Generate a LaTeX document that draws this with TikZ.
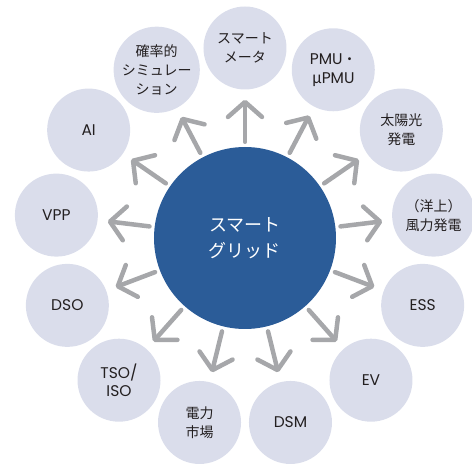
\documentclass[tikz,border=0pt]{standalone}
\usepackage{fontspec}
\setmainfont{Noto Sans CJK JP}
\newfontfamily\lat{Poppins}
\newfontfamily\cjkfont{Noto Sans CJK JP}
\usetikzlibrary{arrows.meta}
\definecolor{cblue}{HTML}{2B5C98}
\definecolor{cpale}{HTML}{DADDEB}
\definecolor{cgray}{HTML}{A6A7AA}
\definecolor{ctext}{HTML}{231F20}
\newcommand{\latsz}{\lat\fontsize{15.5}{18.5}\selectfont}
\begin{document}
\begin{tikzpicture}[
 hub/.style={circle, fill=cblue, minimum size=182pt, inner sep=0pt, text=white, font=\fontsize{18}{26}\selectfont, align=center},
 leaf/.style={circle, fill=cpale, minimum size=83pt, inner sep=0pt, text=ctext, font=\fontsize{14}{19}\selectfont, align=center},
 latin/.style={font=\latsz},
 arr/.style={draw=cgray, line width=4.5pt, line cap=round, -{Straight Barb[length=15pt,width=34pt,round]}, shorten <=5pt, shorten >=10pt}
]
\useasboundingbox (-245pt,-227pt) rectangle (227pt,238pt);
\node[hub] (c) at (0,0) {スマート\\グリッド};
\node[leaf] (n0) at (90:190pt) {スマート\\メータ};
\node[leaf] (n1) at (62.31:190pt) {{\latsz PMU}・\\{\cjkfont\fontsize{15.5}{18.5}\selectfont μ}{\latsz PMU}};
\node[leaf] (n2) at (34.62:190pt) {太陽光\\発電};
\node[leaf] (n3) at (6.92:190pt) {（洋上）\\風力発電};
\node[leaf, latin] (n4) at (-20.77:190pt) {ESS};
\node[leaf, latin] (n5) at (-48.46:190pt) {EV};
\node[leaf, latin] (n6) at (-76.15:190pt) {DSM};
\node[leaf] (n7) at (-103.85:190pt) {電力\\市場};
\node[leaf, latin] (n8) at (-131.54:190pt) {TSO/\\ISO};
\node[leaf, latin] (n9) at (-159.23:190pt) {DSO};
\node[leaf, latin] (n10) at (173.08:190pt) {VPP};
\node[leaf, latin] (n11) at (145.38:190pt) {AI};
\node[leaf] (n12) at (117.69:190pt) {確率的\\シミュレー\\ション};
\foreach \i in {0,...,12} \draw[arr] (c) -- (n\i);
\end{tikzpicture}
\end{document}
